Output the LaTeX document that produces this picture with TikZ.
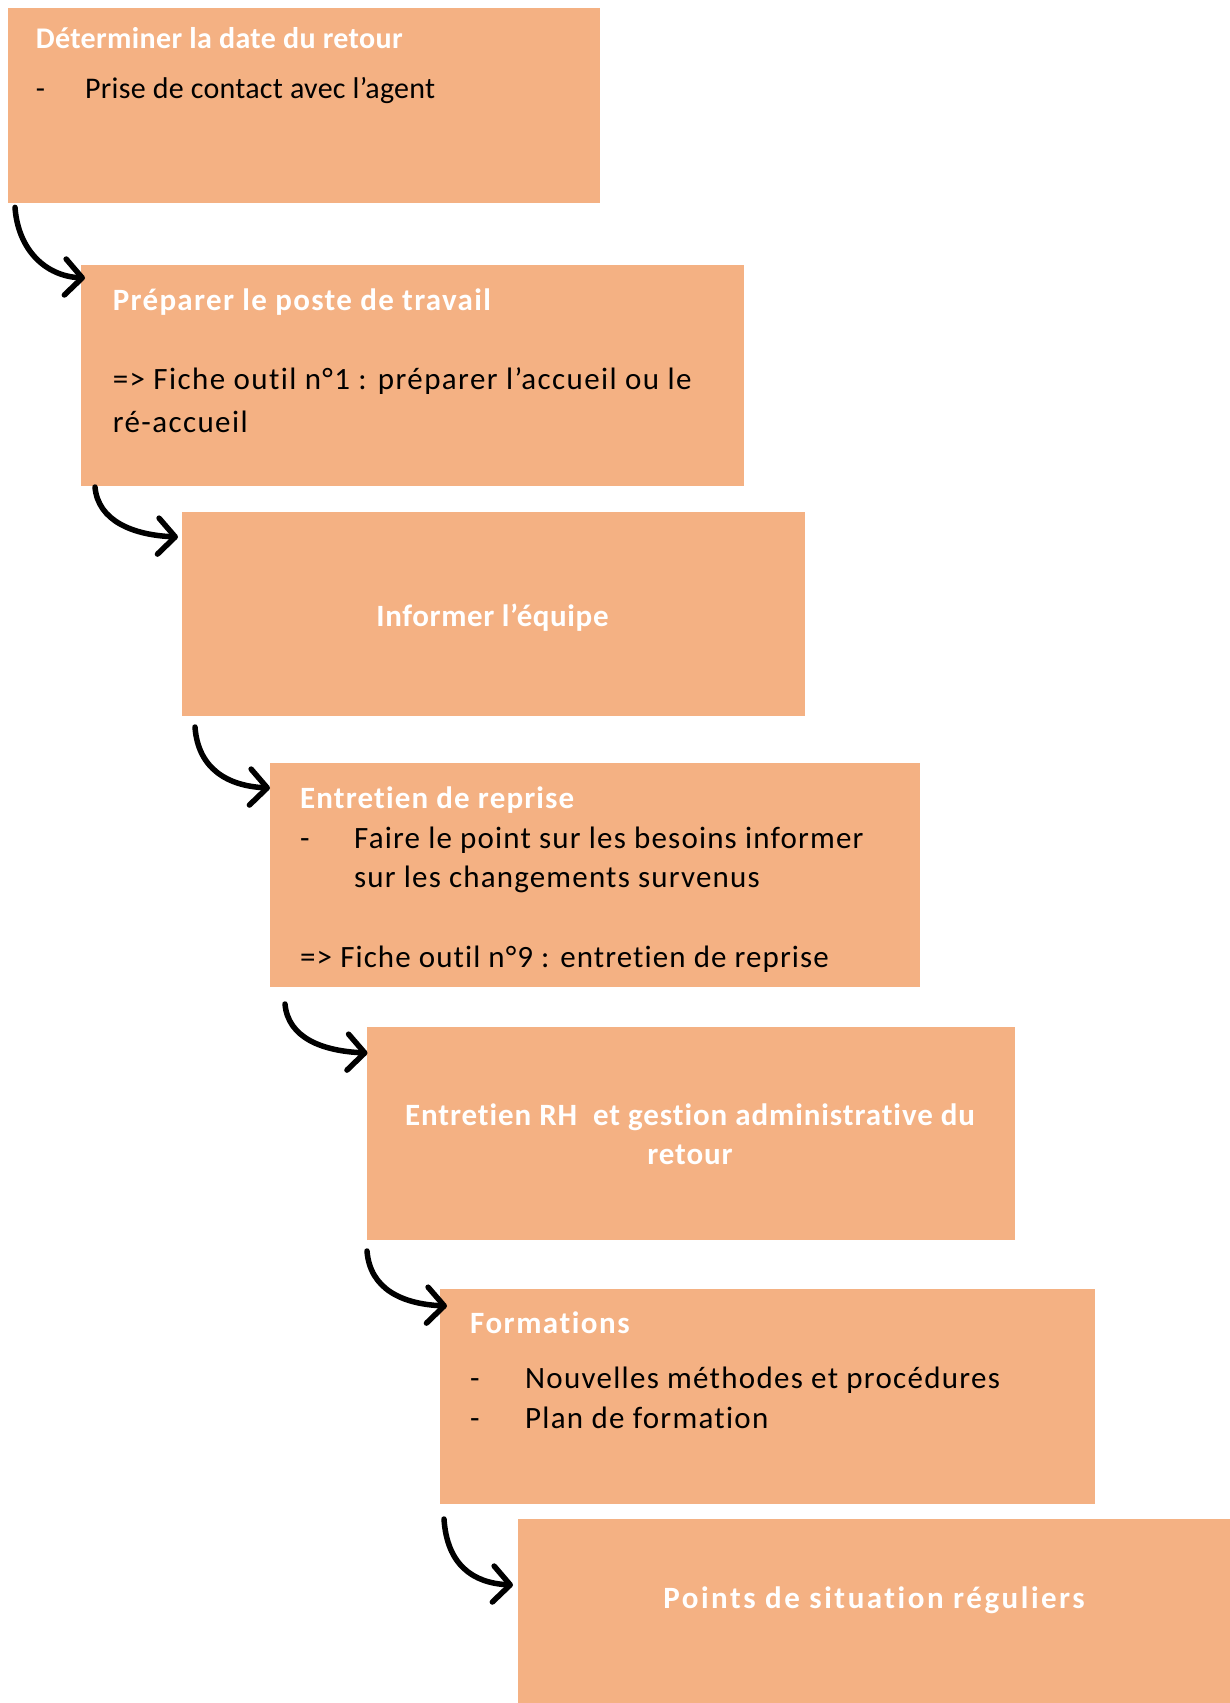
\documentclass[tikz,border=0pt]{standalone}
\usepackage{fontspec}
\setmainfont[Ligatures=NoCommon]{Carlito}
\usetikzlibrary{arrows.meta}
\definecolor{boxfill}{HTML}{F4B183}
\newcommand{\ttlfont}[2]{\bfseries\fontsize{#1}{#1}\selectfont\addfontfeature{LetterSpace=#2}}
\newcommand{\txtfont}[2]{\fontsize{#1}{#1}\selectfont\addfontfeature{LetterSpace=#2}}
\begin{document}
\begin{tikzpicture}[x=1pt,y=-1pt,
  box/.style={fill=boxfill,draw=none,inner sep=0pt,outer sep=0pt,anchor=north west},
  ttl/.style={text=white,font=\ttlfont{31}{3.8},inner sep=0pt,anchor=base west},
  txt/.style={text=black,font=\txtfont{31}{3.5},inner sep=0pt,anchor=base west},
  flow/.style={line width=5.5pt,line cap=round,-{Straight Barb[length=17pt,width=36pt,round]}}]
\useasboundingbox (0,0) rectangle (1230,1703);
% boxes
\node[box,minimum width=592.4pt,minimum height=195.4pt] (b1) at (7.6,7.6) {};
\node[box,minimum width=663pt,minimum height=221pt] (b2) at (81,265) {};
\node[box,minimum width=623pt,minimum height=204pt] (b3) at (181.5,512) {};
\node[box,minimum width=649.6pt,minimum height=224pt] (b4) at (270,763) {};
\node[box,minimum width=648pt,minimum height=213pt] (b5) at (366.5,1027) {};
\node[box,minimum width=655pt,minimum height=215pt] (b6) at (440,1289) {};
\node[box,minimum width=712pt,minimum height=184pt] (b7) at (518,1519) {};
% texts box 1
\node[ttl,font=\ttlfont{30}{1.2}] (t1) at (35.6,48) {Déterminer la date du retour};
\node[txt,font=\txtfont{30}{0.9}] (d1) at (35.6,98) {-};
\node[txt,font=\txtfont{30}{0.9}] (i1) at (85,98) {Prise de contact avec l’agent};
% box 2
\node[ttl,font=\ttlfont{31}{4.3}] (t2) at (112.6,310) {Préparer le poste de travail};
\node[txt,font=\txtfont{31}{4.5}] (i2a) at (112.6,389) {=> Fiche outil n°1 : préparer l’accueil ou le};
\node[txt,font=\txtfont{31}{4.5}] (i2b) at (112.6,432) {ré-accueil};
% box 3
\node[ttl,font=\ttlfont{31}{2},anchor=base] (t3) at (492.5,626) {Informer l’équipe};
% box 4
\node[ttl,font=\ttlfont{31}{3.7}] (t4) at (300,808) {Entretien de reprise};
\node[txt,font=\txtfont{31}{3.8}] (d4) at (300,848) {-};
\node[txt,font=\txtfont{31}{3.8}] (i4a) at (354,848) {Faire le point sur les besoins informer};
\node[txt,font=\txtfont{31}{3.8}] (i4b) at (354,887) {sur les changements survenus};
\node[txt,font=\txtfont{31}{3.5}] (i4c) at (300,967) {=> Fiche outil n°9 : entretien de reprise};
% box 5
\node[ttl,font=\ttlfont{31}{3},anchor=base] (t5a) at (690,1125) {Entretien RH\ \ et gestion administrative du};
\node[ttl,font=\ttlfont{31}{3},anchor=base] (t5b) at (690,1164) {retour};
% box 6
\node[ttl,font=\ttlfont{31}{4.9}] (t6) at (470,1333) {Formations};
\node[txt,font=\txtfont{31}{4.1}] (d6a) at (470,1388) {-};
\node[txt,font=\txtfont{31}{4.1}] (i6a) at (525,1388) {Nouvelles méthodes et procédures};
\node[txt,font=\txtfont{31}{4.1}] (d6b) at (470,1428) {-};
\node[txt,font=\txtfont{31}{4.1}] (i6b) at (525,1428) {Plan de formation};
% box 7
\node[ttl,font=\ttlfont{31}{8.1},anchor=base] (t7) at (874,1608) {Points de situation réguliers};
% arrows
\draw[flow] ([shift={(7.4,4.4)}]b1.south west) .. controls +(3,42) and +(-40,-2) .. ([shift={(4,13)}]b2.north west);
\draw[flow] ([shift={(14,1)}]b2.south west) .. controls +(3,34) and +(-45,-2) .. ([shift={(-3.5,25)}]b3.north west);
\draw[flow] ([shift={(13.5,11)}]b3.south west) .. controls +(3,42) and +(-42,-2) .. ([shift={(0,25)}]b4.north west);
\draw[flow] ([shift={(15,17)}]b4.south west) .. controls +(3,34) and +(-45,-2) .. ([shift={(1,26)}]b5.north west);
\draw[flow] ([shift={(0.5,11)}]b5.south west) .. controls +(3,38) and +(-45,-2) .. ([shift={(7,17)}]b6.north west);
\draw[flow] ([shift={(4,15)}]b6.south west) .. controls +(3,46) and +(-40,-2) .. ([shift={(-5,66)}]b7.north west);
\end{tikzpicture}
\end{document}
